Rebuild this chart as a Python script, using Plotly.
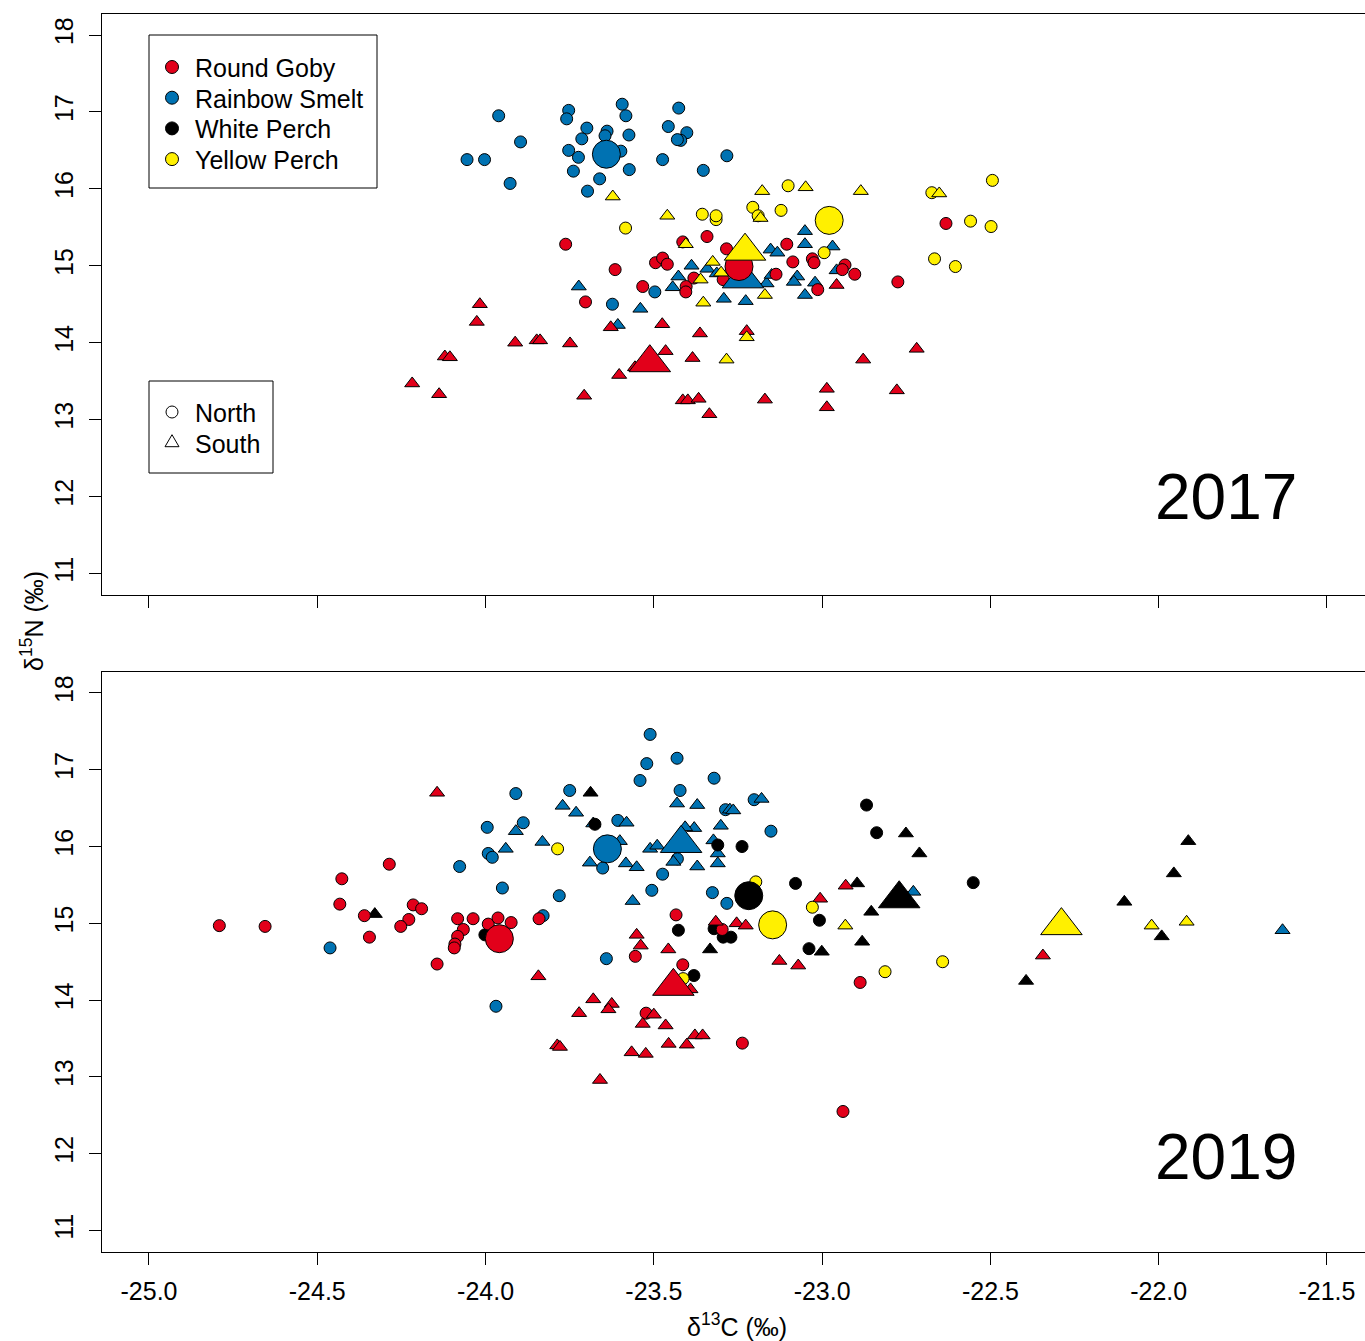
import plotly.graph_objects as go

# ---------------- data ----------------
# 2017 (top panel)
rs_n17_x = [-23.961, -23.753, -23.759, -23.594, -23.583, -23.426, -23.896, -23.699, -23.639, -23.645, -23.574,
            -23.457, -23.402, -23.420, -23.430, -23.714, -23.753, -23.724, -23.598, -24.055, -24.003, -23.474,
            -23.739, -23.573, -23.353, -23.661, -23.927, -23.697, -23.283, -23.623, -23.497]
rs_n17_y = [16.95, 17.02, 16.91, 17.10, 16.95, 17.05, 16.61, 16.79, 16.75, 16.69, 16.70,
            16.81, 16.73, 16.63, 16.64, 16.65, 16.50, 16.41, 16.49, 16.38, 16.38, 16.38,
            16.23, 16.25, 16.24, 16.13, 16.07, 15.97, 16.43, 14.50, 14.66]
rs_s17_x = [-23.723, -23.607, -23.540, -23.444, -23.427, -23.388, -23.341, -23.313, -23.292, -23.227, -23.165,
            -23.153, -23.133, -23.150, -23.074, -23.084, -23.021, -23.051, -23.051, -23.051, -22.969, -22.957]
rs_s17_y = [14.73, 14.23, 14.44, 14.72, 14.86, 15.00, 14.96, 14.90, 14.57, 14.54, 14.77,
            15.21, 15.17, 14.88, 14.86, 14.79, 14.78, 14.62, 15.45, 15.28, 15.25, 14.94]
rg_n17_x = [-23.762, -23.615, -23.533, -23.495, -23.474, -23.460, -23.414, -23.342, -23.404, -23.405, -23.381,
            -23.703, -23.284, -23.294, -23.105, -23.087, -23.029, -23.024, -23.137, -22.932, -22.940, -22.903,
            -23.013, -22.775, -22.632]
rg_n17_y = [15.28, 14.95, 14.73, 15.04, 15.10, 15.02, 15.31, 15.38, 14.73, 14.66, 14.84,
            14.53, 15.22, 14.82, 15.28, 15.05, 15.09, 15.04, 14.89, 15.01, 14.95, 14.89,
            14.69, 14.79, 15.55]
rg_s17_x = [-24.017, -24.026, -23.912, -23.848, -23.838, -23.749, -24.121, -24.106, -24.218, -24.138, -23.707,
            -23.628, -23.603, -23.475, -23.465, -23.363, -23.385, -23.414, -23.399, -23.367, -23.335,
            -23.556, -23.224, -23.170, -22.878, -22.719, -22.986, -22.986, -22.778, -22.957]
rg_s17_y = [14.50, 14.27, 14.00, 14.03, 14.03, 13.99, 13.82, 13.81, 13.47, 13.33, 13.31,
            14.20, 13.58, 14.24, 13.89, 14.12, 13.80, 13.25, 13.25, 13.27, 13.07,
            13.68, 14.15, 13.26, 13.78, 13.92, 13.40, 13.16, 13.38, 14.75]
yp_n17_x = [-23.584, -23.356, -23.315, -23.315, -23.101, -23.206, -23.190, -23.122, -22.994, -22.494, -22.674,
            -22.559, -22.498, -22.666, -22.604]
yp_n17_y = [15.49, 15.67, 15.60, 15.65, 16.04, 15.76, 15.65, 15.72, 15.17, 16.11, 15.95,
            15.58, 15.51, 15.09, 14.99]
yp_s17_x = [-23.622, -23.460, -23.405, -23.325, -23.361, -23.300, -23.353, -23.178, -23.049, -22.885, -22.652,
            -23.183, -23.170, -23.224, -23.284]
yp_s17_y = [15.90, 15.65, 15.28, 15.05, 14.82, 14.91, 14.52, 15.97, 16.02, 15.97, 15.94,
            15.62, 14.62, 14.07, 13.78]

# 2019 (bottom panel)
rg_n19_x = [-24.791, -24.655, -24.427, -24.286, -24.433, -24.360, -24.345, -24.215, -24.190, -24.228, -24.252,
            -24.083, -24.037, -24.066, -24.083, -24.091, -24.093, -24.144, -23.992, -23.963, -23.924, -23.841,
            -23.434, -23.555, -23.414, -23.523, -23.297, -23.237, -22.887, -22.938]
rg_n19_y = [14.97, 14.96, 15.58, 15.77, 15.25, 15.10, 14.82, 15.24, 15.19, 15.05, 14.96,
            15.06, 15.06, 14.92, 14.83, 14.73, 14.68, 14.47, 14.99, 15.07, 15.01, 15.06,
            15.11, 14.57, 14.46, 13.83, 14.92, 13.44, 14.23, 12.55]
rg_s19_x = [-24.144, -23.551, -23.539, -23.457, -23.316, -23.254, -23.227, -23.127, -23.071, -23.843, -23.680,
            -23.625, -23.635, -23.722, -23.500, -23.533, -23.465, -23.378, -23.355, -23.456, -23.402, -23.566,
            -23.524, -23.787, -23.779, -23.660, -23.391, -22.930, -23.006, -22.344]
rg_s19_y = [16.70, 14.85, 14.71, 14.66, 15.02, 15.00, 14.97, 14.51, 14.45, 14.31, 14.01,
            13.95, 13.88, 13.83, 13.81, 13.69, 13.67, 13.54, 13.54, 13.43, 13.42, 13.32,
            13.30, 13.41, 13.39, 12.96, 14.14, 15.49, 15.32, 14.58]
rs_n19_x = [-24.462, -24.077, -23.992, -23.980, -23.950, -23.511, -23.521, -23.431, -23.541, -23.321, -23.910,
            -23.750, -23.422, -23.995, -23.888, -23.607, -23.287, -23.202, -23.152, -23.652, -23.430, -23.474,
            -23.781, -23.506, -23.326, -23.283, -23.829, -23.641, -23.969]
rs_n19_y = [14.68, 15.74, 15.91, 15.86, 15.46, 17.46, 17.08, 17.15, 16.86, 16.89, 16.69,
            16.73, 16.73, 16.25, 16.31, 16.34, 16.48, 16.61, 16.20, 15.72, 15.84, 15.64,
            15.36, 15.43, 15.40, 15.26, 15.10, 14.54, 13.92]
rs_s19_x = [-23.940, -23.771, -23.731, -23.910, -23.831, -23.680, -23.581, -23.601, -23.690, -23.583, -23.551,
            -23.511, -23.490, -23.431, -23.371, -23.380, -23.407, -23.301, -23.323, -23.310, -23.310, -23.442,
            -23.371, -23.274, -23.264, -23.180, -23.563, -22.729, -21.632]
rs_s19_y = [15.97, 16.53, 16.44, 16.20, 16.06, 16.30, 16.31, 16.07, 15.79, 15.78, 15.73,
            15.97, 16.01, 16.56, 16.54, 16.24, 16.25, 16.27, 16.08, 15.91, 15.78, 15.80,
            15.74, 16.48, 16.47, 16.62, 15.29, 15.41, 14.91]
wp_n19_x = [-24.002, -23.675, -23.310, -23.238, -23.079, -23.427, -23.381, -23.294, -23.271, -23.321, -22.868,
            -22.838, -23.008, -23.039, -22.551]
wp_n19_y = [14.85, 16.29, 16.02, 16.00, 15.52, 14.91, 14.32, 14.82, 14.82, 14.93, 16.54,
            16.18, 15.04, 14.67, 15.53]
wp_s19_x = [-24.329, -23.688, -23.333, -22.751, -22.711, -22.896, -22.854, -22.881, -23.001, -21.912, -21.955,
            -22.102, -21.991, -22.394]
wp_s19_y = [15.12, 16.70, 14.66, 16.17, 15.91, 15.52, 15.15, 14.76, 14.63, 16.07, 15.65,
            15.28, 14.83, 14.25]
yp_n19_x = [-23.786, -23.197, -23.413, -23.029, -22.813, -22.642]
yp_n19_y = [15.97, 15.54, 14.28, 15.21, 14.37, 14.50]
yp_s19_x = [-22.931, -22.021, -21.917]
yp_s19_y = [14.97, 14.97, 15.02]

# group means
mean17_species = ["Rainbow Smelt", "Rainbow Smelt", "Round Goby", "Round Goby", "Yellow Perch", "Yellow Perch"]
mean17_site = ["South", "North", "North", "South", "North", "South"]
mean17_x = [-23.235, -23.641, -23.247, -23.512, -22.979, -23.229]
mean17_y = [14.83, 16.45, 14.99, 13.74, 15.59, 15.19]
mean19_species = ["Rainbow Smelt", "Rainbow Smelt", "Round Goby", "Round Goby", "White Perch", "White Perch",
                  "Yellow Perch", "Yellow Perch"]
mean19_site = ["North", "South", "North", "South", "North", "South", "North", "South"]
mean19_x = [-23.638, -23.419, -23.959, -23.442, -23.218, -22.771, -23.147, -22.289]
mean19_y = [15.97, 16.04, 14.80, 14.18, 15.36, 15.32, 14.98, 14.97]

species = ["Round Goby", "Rainbow Smelt", "White Perch", "Yellow Perch"]
sites = ["North", "South"]
colors = {"Round Goby": "#E2001A", "Rainbow Smelt": "#0072B2", "White Perch": "#000000", "Yellow Perch": "#FFF000"}
symbols = {"North": "circle", "South": "triangle-up"}

x_ticks = [-25.0, -24.5, -24.0, -23.5, -23.0, -22.5, -22.0, -21.5]
x_ticktext = ["-25.0", "-24.5", "-24.0", "-23.5", "-23.0", "-22.5", "-22.0", "-21.5"]
y_ticks = [11, 12, 13, 14, 15, 16, 17, 18]

FONT = "Liberation Sans, Arial, sans-serif"
W, H = 1365, 1341
ML, MR, MT, MB = 102, 0, 14, 89
fig = go.Figure()


def pts(x, y, sp, site, xa, ya, big=False):
    size = (28 if site == "North" else 36) if big else (12 if site == "North" else 13)
    fig.add_trace(go.Scatter(
        x=x, y=y, mode="markers", xaxis=xa, yaxis=ya, showlegend=False, hoverinfo="skip",
        marker=dict(symbol=symbols[site], size=size, color=colors[sp],
                    line=dict(color="black", width=1))))


# top panel (2017)
pts(rs_n17_x, rs_n17_y, "Rainbow Smelt", "North", "x", "y")
pts(rs_s17_x, rs_s17_y, "Rainbow Smelt", "South", "x", "y")
pts(rg_n17_x, rg_n17_y, "Round Goby", "North", "x", "y")
pts(rg_s17_x, rg_s17_y, "Round Goby", "South", "x", "y")
pts(yp_n17_x, yp_n17_y, "Yellow Perch", "North", "x", "y")
pts(yp_s17_x, yp_s17_y, "Yellow Perch", "South", "x", "y")
for sp, st, mx, my in zip(mean17_species, mean17_site, mean17_x, mean17_y):
    pts([mx], [my], sp, st, "x", "y", big=True)

# bottom panel (2019)
pts(rs_n19_x, rs_n19_y, "Rainbow Smelt", "North", "x2", "y2")
pts(rs_s19_x, rs_s19_y, "Rainbow Smelt", "South", "x2", "y2")
pts(wp_n19_x, wp_n19_y, "White Perch", "North", "x2", "y2")
pts(wp_s19_x, wp_s19_y, "White Perch", "South", "x2", "y2")
pts(rg_n19_x, rg_n19_y, "Round Goby", "North", "x2", "y2")
pts(rg_s19_x, rg_s19_y, "Round Goby", "South", "x2", "y2")
pts(yp_n19_x, yp_n19_y, "Yellow Perch", "North", "x2", "y2")
pts(yp_s19_x, yp_s19_y, "Yellow Perch", "South", "x2", "y2")
for sp, st, mx, my in zip(mean19_species, mean19_site, mean19_x, mean19_y):
    pts([mx], [my], sp, st, "x2", "y2", big=True)


# ---------------- hand-drawn legends (paper coordinates) ----------------
def px(xp):
    return (xp - ML) / (W - ML - MR)


def py(yp):
    return 1 - (yp - MT) / (H - MT - MB)


shapes = []
annotations = []
LEG_FONT = dict(family=FONT, size=25, color="black")

# species legend
shapes.append(dict(type="rect", xref="paper", yref="paper", x0=px(149), x1=px(377), y0=py(188), y1=py(35),
                   line=dict(color="black", width=1), fillcolor="white", layer="above"))
for i, sp in enumerate(species):
    yc = 67 + 30.7 * i
    shapes.append(dict(type="circle", xref="paper", yref="paper", xsizemode="pixel", ysizemode="pixel",
                       xanchor=px(172), yanchor=py(yc), x0=-6.5, x1=6.5, y0=-6.5, y1=6.5,
                       fillcolor=colors[sp], line=dict(color="black", width=1), layer="above"))
    annotations.append(dict(text=sp, x=px(193), y=py(yc + 1), xref="paper", yref="paper", showarrow=False,
                            xanchor="left", yanchor="middle", font=LEG_FONT))

# site legend
shapes.append(dict(type="rect", xref="paper", yref="paper", x0=px(149), x1=px(273), y0=py(473), y1=py(381),
                   line=dict(color="black", width=1), fillcolor="white", layer="above"))
for i, st in enumerate(sites):
    yc = 412 + 30.7 * i
    if st == "North":
        shapes.append(dict(type="circle", xref="paper", yref="paper", xsizemode="pixel", ysizemode="pixel",
                           xanchor=px(172), yanchor=py(yc), x0=-6, x1=6, y0=-6, y1=6,
                           line=dict(color="black", width=1), layer="above"))
    else:
        shapes.append(dict(type="path", xref="paper", yref="paper", xsizemode="pixel", ysizemode="pixel",
                           xanchor=px(172), yanchor=py(yc), path="M-7,-4 L7,-4 L0,8 Z",
                           line=dict(color="black", width=1), layer="above"))
    annotations.append(dict(text=st, x=px(193), y=py(yc + 1), xref="paper", yref="paper", showarrow=False,
                            xanchor="left", yanchor="middle", font=LEG_FONT))

annotations += [
    dict(text="2017", x=-21.8, y=12.0, xref="x", yref="y", showarrow=False,
         xanchor="center", yanchor="middle", font=dict(family=FONT, size=64, color="black")),
    dict(text="2019", x=-21.8, y=11.96, xref="x2", yref="y2", showarrow=False,
         xanchor="center", yanchor="middle", font=dict(family=FONT, size=64, color="black")),
    dict(text="δ<sup>13</sup>C (‰)", x=px(737), y=py(1325), xref="paper", yref="paper", showarrow=False,
         xanchor="center", yanchor="middle", font=dict(family=FONT, size=25, color="black")),
    dict(text="δ<sup>15</sup>N (‰)", x=px(32), y=py(621), xref="paper", yref="paper", showarrow=False,
         textangle=-90, xanchor="center", yanchor="middle", font=dict(family=FONT, size=25, color="black")),
]

xr = [-25.1396, -21.387]
yr = [10.72, 18.273]
axis_common = dict(showgrid=False, zeroline=False, showline=True, linecolor="black", linewidth=1,
                   ticks="outside", ticklen=12, tickwidth=1, tickcolor="black",
                   tickfont=dict(family=FONT, size=25, color="black"))

fig.update_layout(
    width=W, height=H,
    margin=dict(l=ML, r=MR, t=MT, b=MB),
    paper_bgcolor="white", plot_bgcolor="white",
    font=dict(family=FONT, color="black"),
    showlegend=False,
    xaxis=dict(domain=[0, 1], range=xr, anchor="y", mirror=True, tickvals=x_ticks,
               showticklabels=False, **axis_common),
    yaxis=dict(domain=[0.5307, 1], range=yr, anchor="x", tickvals=y_ticks, tickangle=-90,
               ticklabelstandoff=6, **axis_common),
    xaxis2=dict(domain=[0, 1], range=xr, anchor="y2", mirror=True, tickvals=x_ticks,
                ticktext=x_ticktext, ticklabelstandoff=5, **axis_common),
    yaxis2=dict(domain=[0, 0.4685], range=yr, anchor="x2", tickvals=y_ticks, tickangle=-90,
                ticklabelstandoff=6, **axis_common),
    shapes=shapes,
    annotations=annotations,
)

fig.write_html("out.html")
